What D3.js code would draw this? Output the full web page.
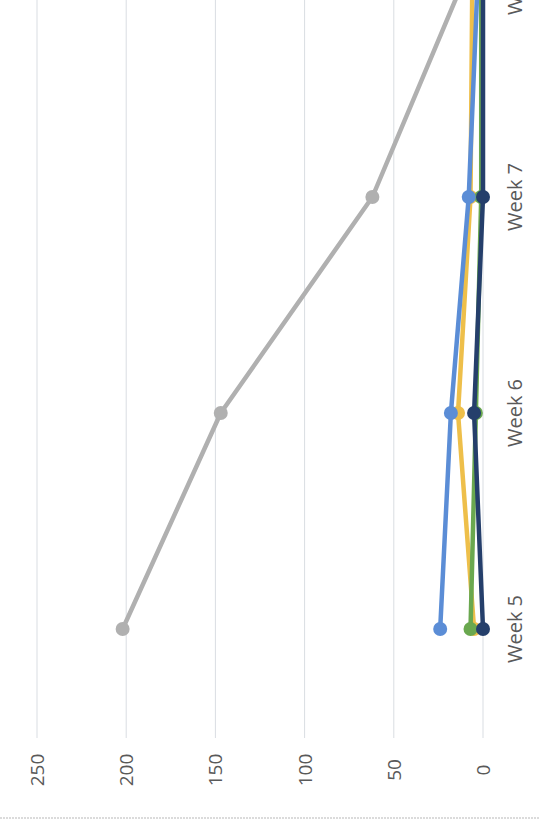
<!DOCTYPE html>
<html><head><meta charset="utf-8">
<script src="https://cdn.jsdelivr.net/npm/d3@7"></script>
<style>body{margin:0;background:#fff}svg{display:block}</style>
</head><body>
<script>
const categories = ["Week 5","Week 6","Week 7","Week 8"];
const valueTicks = [0,50,100,150,200,250];
const grayVals   = [202,147,62,11];
const yellowVals = [5,14,7,6];
const greenVals  = [7,4,1,1];
const blueVals   = [24,18,8,3];
const navyVals   = [0,5,0,0];
const series = [
  {name:"gray",   values:grayVals,   color:"#b0b0b0"},
  {name:"yellow", values:yellowVals, color:"#eebf4a"},
  {name:"green",  values:greenVals,  color:"#6aa84f"},
  {name:"blue",   values:blueVals,   color:"#5b8dd6"},
  {name:"navy",   values:navyVals,   color:"#253f6b"}
];
const W=540,H=829;
const svg=d3.select("body").append("svg").attr("width",W).attr("height",H);
const x=d3.scaleLinear().domain([0,250]).range([483,37]);
const y=d3.scalePoint().domain(categories).range([629,-19]);

// gridlines
svg.append("g").selectAll("line").data(valueTicks).join("line")
  .attr("x1",d=>x(d)).attr("x2",d=>x(d)).attr("y1",0).attr("y2",738)
  .attr("stroke","#d9dde2").attr("stroke-width",1);

const fam="'Open Sans', 'Noto Sans', sans-serif";
// value axis labels (rotated)
svg.append("g").selectAll("text").data(valueTicks).join("text")
  .attr("transform",d=>`translate(${x(d)+7},770) rotate(-90)`)
  .attr("text-anchor","middle").attr("font-family",fam).attr("font-size",19)
  .attr("fill","#595959").text(d=>d);

// category labels
svg.append("g").selectAll("text").data(categories).join("text")
  .attr("transform",d=>`translate(${522},${y(d)}) rotate(-90)`)
  .attr("text-anchor","middle").attr("font-family",fam).attr("font-size",20)
  .attr("fill","#595959").text(d=>d);

// bottom border
svg.append("line").attr("x1",0).attr("x2",W).attr("y1",818).attr("y2",818)
  .attr("stroke","#cfcfcf").attr("stroke-width",1.5).attr("stroke-dasharray","2,1");

const line=d3.line().x(d=>x(d.v)).y(d=>y(d.c));
series.forEach(s=>{
  const pts=s.values.map((v,i)=>({v,c:categories[i]}));
  const g=svg.append("g");
  g.append("path").datum(pts).attr("d",line).attr("fill","none")
    .attr("stroke",s.color).attr("stroke-width",4.5).attr("stroke-linejoin","round");
  g.selectAll("circle").data(pts).join("circle")
    .attr("cx",d=>x(d.v)).attr("cy",d=>y(d.c)).attr("r",7).attr("fill",s.color);
});
</script>
</body></html>
